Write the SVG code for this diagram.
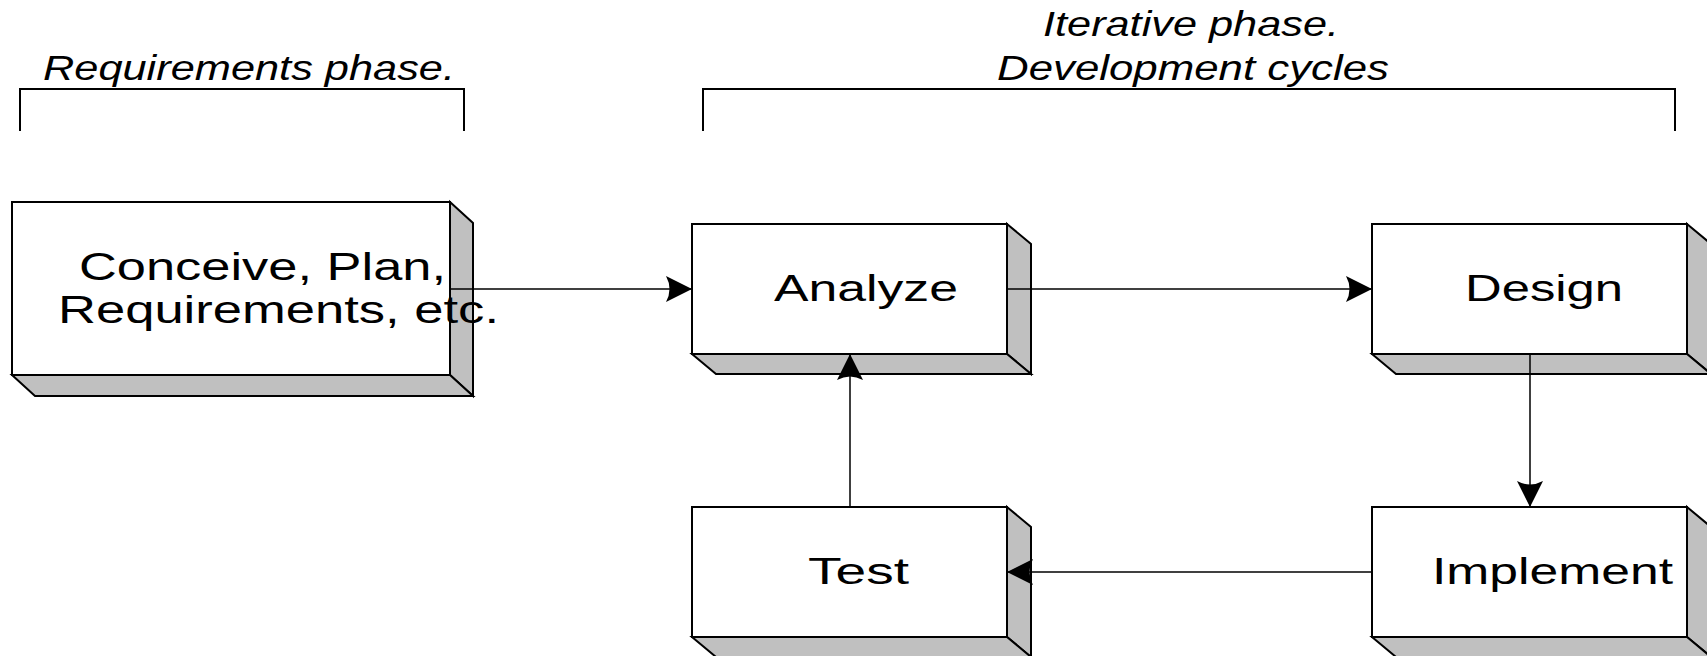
<svg xmlns="http://www.w3.org/2000/svg" width="1707" height="656" viewBox="0 0 1707 656">
<style>
.face{fill:#ffffff;stroke:#000;stroke-width:2}
.shade{fill:#c0c0c0;stroke:#000;stroke-width:2;stroke-linejoin:miter}
.lbl{font-family:"Liberation Sans",Arial,sans-serif;font-size:36px;fill:#000}
.lbl2{font-family:"Liberation Sans",Arial,sans-serif;font-size:38px;fill:#000}
.ttl{font-family:"Liberation Sans",Arial,sans-serif;font-size:35px;font-style:italic;fill:#000}
.br{fill:none;stroke:#000;stroke-width:2}
.con{fill:none;stroke:#000;stroke-width:1.5}
</style>
<defs>
<marker id="arr" markerUnits="userSpaceOnUse" markerWidth="30" markerHeight="30" viewBox="-28 -15 30 30" refX="0" refY="0" orient="auto">
<path d="M0,0 L-26,-13 Q-19,0 -26,13 Z" fill="#000"/>
</marker>
</defs>
<rect width="1707" height="656" fill="#fff"/>
<g id="titles">
<text class="ttl" x="43" y="80" textLength="412" lengthAdjust="spacingAndGlyphs">Requirements phase.</text>
<text class="ttl" x="1043" y="36" textLength="296" lengthAdjust="spacingAndGlyphs">Iterative phase.</text>
<text class="ttl" x="997" y="80" textLength="392" lengthAdjust="spacingAndGlyphs">Development cycles</text>
</g>
<g id="brackets">
<path class="br" d="M20,131 V89 H464 V131"/>
<path class="br" d="M703,131 V89 H1675 V131"/>
</g>
<g id="node-conceive">
<polygon class="shade" points="450,202 473,223 473,396 450,375"/>
<polygon class="shade" points="12,375 450,375 473,396 35,396"/>
<rect class="face" x="12" y="202" width="438" height="173"/>
<text class="lbl2" x="79" y="280" textLength="367" lengthAdjust="spacingAndGlyphs">Conceive, Plan,</text>
<text class="lbl2" x="58" y="323" textLength="441" lengthAdjust="spacingAndGlyphs">Requirements, etc.</text>
</g>
<g id="node-analyze">
<polygon class="shade" points="1007,224 1031,244 1031,374 1007,354"/>
<polygon class="shade" points="692,354 1007,354 1031,374 716,374"/>
<rect class="face" x="692" y="224" width="315" height="130"/>
<text class="lbl" x="774" y="301" textLength="184" lengthAdjust="spacingAndGlyphs">Analyze</text>
</g>
<g id="node-design">
<polygon class="shade" points="1687,224 1711,244 1711,374 1687,354"/>
<polygon class="shade" points="1372,354 1687,354 1711,374 1396,374"/>
<rect class="face" x="1372" y="224" width="315" height="130"/>
<text class="lbl" x="1465" y="301" textLength="158" lengthAdjust="spacingAndGlyphs">Design</text>
</g>
<g id="node-test">
<polygon class="shade" points="1007,507 1031,527 1031,657 1007,637"/>
<polygon class="shade" points="692,637 1007,637 1031,657 716,657"/>
<rect class="face" x="692" y="507" width="315" height="130"/>
<text class="lbl" x="808" y="584" textLength="101" lengthAdjust="spacingAndGlyphs">Test</text>
</g>
<g id="node-implement">
<polygon class="shade" points="1687,507 1711,527 1711,657 1687,637"/>
<polygon class="shade" points="1372,637 1687,637 1711,657 1396,657"/>
<rect class="face" x="1372" y="507" width="315" height="130"/>
<text class="lbl" x="1432" y="584" textLength="241" lengthAdjust="spacingAndGlyphs">Implement</text>
</g>
<g id="connectors">
<line class="con" x1="450" y1="289" x2="692" y2="289" marker-end="url(#arr)"/>
<line class="con" x1="1007" y1="289" x2="1372" y2="289" marker-end="url(#arr)"/>
<line class="con" x1="1530" y1="354" x2="1530" y2="507" marker-end="url(#arr)"/>
<line class="con" x1="1372" y1="572" x2="1007" y2="572" marker-end="url(#arr)"/>
<line class="con" x1="850" y1="507" x2="850" y2="354" marker-end="url(#arr)"/>
</g>
</svg>
